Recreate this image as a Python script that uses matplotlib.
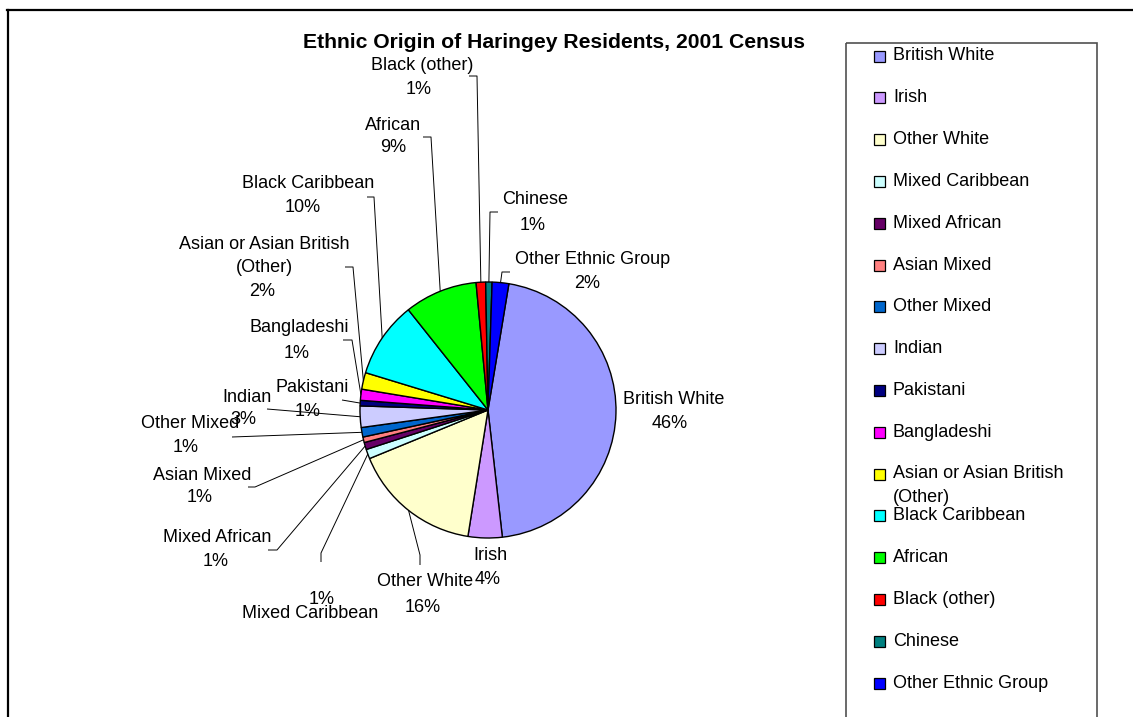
import numpy as np
import matplotlib.pyplot as plt
from matplotlib.patches import Rectangle

plt.rcParams['font.family'] = ['Liberation Sans', 'DejaVu Sans']

groups = ['British White', 'Irish', 'Other White', 'Mixed Caribbean', 'Mixed African',
          'Asian Mixed', 'Other Mixed', 'Indian', 'Pakistani', 'Bangladeshi',
          'Asian or Asian British\n(Other)', 'Black Caribbean', 'African',
          'Black (other)', 'Chinese', 'Other Ethnic Group']
shares = [45.6, 4.3, 16.3, 1.2, 0.9, 0.7, 1.2, 2.7, 0.7, 1.4, 2.1, 9.6, 9.2, 1.2, 0.8, 2.1]
colors = ['#9999FF', '#CC99FF', '#FFFFCC', '#CCFFFF', '#660066', '#FF8080', '#0066CC',
          '#CCCCFF', '#000080', '#FF00FF', '#FFFF00', '#00FFFF', '#00FF00', '#FF0000',
          '#008080', '#0000FF']

# label placement in pixels: (name x, name y, percent x, percent y)
label_xy = [(674, 400, 670, 423), (490, 555, 488, 580), (425, 582, 423, 607),
            (310, 613, 322, 600), (217, 538, 216, 561), (202, 475, 200, 498),
            (190, 423, 186, 447), (247, 397, 243, 420), (312, 388, 308, 411),
            (299, 327, 297, 353), (264, 256, 262, 292), (308, 183, 303, 208),
            (393, 125, 393, 148), (422, 65, 419, 89), (535, 200, 533, 225),
            (593, 260, 587, 283)]
# leader line points from the label, the last point is on the slice edge
leaders = [[], [], [(420, 565), (420, 555)], [(321, 562), (321, 553)],
           [(268, 550), (277, 550)], [(248, 487), (255, 487)], [(232, 437)],
           [(267, 409)], [(342, 400)], [(343, 340), (352, 340)],
           [(345, 267), (353, 267)], [(367, 197), (374, 197)],
           [(423, 137), (431, 137)], [(469, 76), (477, 76)],
           [(498, 212), (490, 212)], [(510, 272), (502, 272)]]

W, H = 1133, 717
cx, cy, r = 488, 410, 128

fig = plt.figure(figsize=(W / 100, H / 100), dpi=100)
ax = fig.add_axes([0, 0, 1, 1])

# y axis runs downwards, so counterclock=True turns clockwise on screen
wedges, _ = ax.pie(shares, colors=colors, center=(cx, cy), radius=r,
                   startangle=-80.6, counterclock=True, frame=True,
                   wedgeprops=dict(edgecolor='black', linewidth=1.0))
ax.set_xlim(0, W)
ax.set_ylim(H, 0)
ax.axis('off')

total = sum(shares)
fs = 13
for i, w in enumerate(wedges):
    pct = int(shares[i] / total * 100 + 0.5)
    nx, ny, px, py = label_xy[i]
    ax.text(nx, ny, groups[i], ha='center', va='center', fontsize=fs,
            linespacing=1.45, multialignment='center')
    ax.text(px, py, f'{pct}%', ha='center', va='center', fontsize=fs)
    if leaders[i]:
        mid = np.deg2rad((w.theta1 + w.theta2) / 2)
        pts = leaders[i] + [(cx + r * np.cos(mid), cy + r * np.sin(mid))]
        xs, ys = zip(*pts)
        ax.plot(xs, ys, color='black', lw=0.7, solid_capstyle='butt')

ax.text(554, 43, 'Ethnic Origin of Haringey Residents, 2001 Census',
        ha='center', va='center', fontsize=15.2, fontweight='bold')

# outer chart border (top and left edges visible)
ax.plot([7, W], [9.5, 9.5], color='black', lw=1.6, clip_on=False)
ax.plot([7.5, 7.5], [9.5, H], color='black', lw=1.6, clip_on=False)

# legend box and entries
ax.add_patch(Rectangle((846, 43), 251, 700, fill=False, edgecolor='#505050', lw=1.2,
                       clip_on=False))
for i, name in enumerate(groups):
    y = 56 + i * 41.8
    ax.add_patch(Rectangle((874, y - 5.5), 11, 11, facecolor=colors[i],
                           edgecolor='black', lw=0.9))
    for j, line in enumerate(name.split('\n')):
        ax.text(893, y + j * 23, line, ha='left', va='center', fontsize=fs)

fig.savefig('out.png', dpi=100)
